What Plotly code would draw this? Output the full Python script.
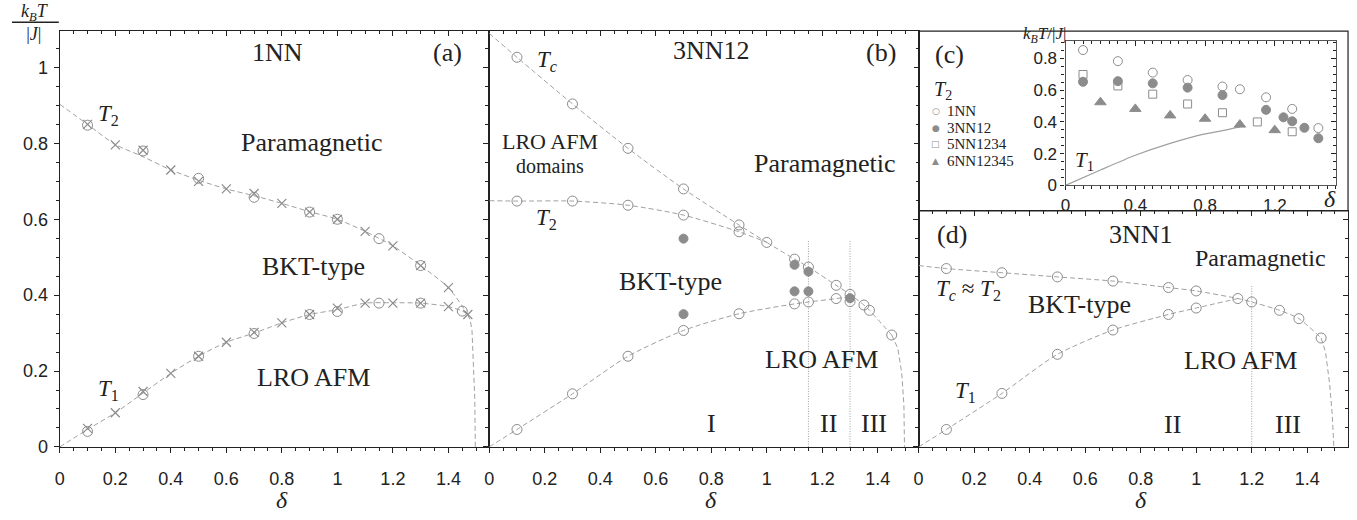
import plotly.graph_objects as go

GRAY = "#8c8c8c"
LINE_GRAY = "#a0a0a0"
INK = "#222222"
SERIF = "Liberation Serif"
SANS = "Liberation Sans"
W, H = 1357, 520

# ---------------- (a) 1NN ----------------
a_T2_circle_x = [0.1, 0.3, 0.5, 0.7, 0.9, 1.0, 1.15, 1.3, 1.45]
a_T2_circle_y = [0.848, 0.780, 0.708, 0.658, 0.619, 0.600, 0.549, 0.478, 0.358]
a_T2_cross_x = [0.1, 0.2, 0.3, 0.4, 0.5, 0.6, 0.7, 0.8, 0.9, 1.0, 1.1, 1.2, 1.3, 1.4, 1.47]
a_T2_cross_y = [0.850, 0.796, 0.782, 0.730, 0.700, 0.680, 0.668, 0.642, 0.619, 0.600,
                0.568, 0.530, 0.478, 0.420, 0.349]
a_T1_circle_x = [0.1, 0.3, 0.5, 0.7, 0.9, 1.0, 1.15, 1.3]
a_T1_circle_y = [0.041, 0.138, 0.239, 0.299, 0.349, 0.357, 0.379, 0.379]
a_T1_cross_x = [0.1, 0.2, 0.3, 0.4, 0.5, 0.6, 0.7, 0.8, 0.9, 1.0, 1.1, 1.2, 1.3, 1.4]
a_T1_cross_y = [0.049, 0.090, 0.146, 0.194, 0.239, 0.276, 0.302, 0.327, 0.349, 0.366,
                0.379, 0.379, 0.379, 0.370]
# dashed guide curves
a_T2_line_x = [0, 0.1, 0.2, 0.3, 0.4, 0.5, 0.6, 0.7, 0.8, 0.9, 1.0, 1.1, 1.2, 1.3, 1.4, 1.47]
a_T2_line_y = [0.903, 0.850, 0.797, 0.765, 0.730, 0.703, 0.680, 0.662, 0.642, 0.620, 0.600,
               0.568, 0.530, 0.478, 0.420, 0.349]
a_T1_line_x = [0, 0.1, 0.2, 0.3, 0.4, 0.5, 0.6, 0.7, 0.8, 0.9, 1.0, 1.1, 1.2, 1.3, 1.4, 1.45, 1.47]
a_T1_line_y = [0, 0.046, 0.090, 0.142, 0.194, 0.239, 0.276, 0.300, 0.327, 0.349, 0.362,
               0.379, 0.380, 0.379, 0.370, 0.358, 0.349]
a_tail_x = [1.47, 1.479, 1.485, 1.491, 1.495, 1.497]
a_tail_y = [0.349, 0.332, 0.307, 0.213, 0.127, 0]

# ---------------- (b) 3NN12 ----------------
b_Tc_x = [0.1, 0.3, 0.5, 0.7, 0.9]
b_Tc_y = [1.027, 0.904, 0.787, 0.680, 0.585]
b_T2_x = [0.1, 0.3, 0.5, 0.7, 0.9, 1.0, 1.1, 1.15, 1.25, 1.3, 1.35, 1.37, 1.45]
b_T2_y = [0.648, 0.648, 0.637, 0.611, 0.567, 0.539, 0.495, 0.474, 0.426, 0.402, 0.374, 0.360, 0.295]
b_T1_x = [0.1, 0.3, 0.5, 0.7, 0.9, 1.1, 1.15, 1.25, 1.3]
b_T1_y = [0.046, 0.140, 0.239, 0.307, 0.351, 0.377, 0.382, 0.391, 0.383]
b_mc_x = [0.7, 0.7, 1.1, 1.1, 1.15, 1.15, 1.3]
b_mc_y = [0.549, 0.350, 0.480, 0.410, 0.462, 0.410, 0.392]
b_Tc_line_x = [0, 0.1, 0.3, 0.5, 0.7, 0.9, 1.0]
b_Tc_line_y = [1.090, 1.027, 0.904, 0.787, 0.680, 0.585, 0.539]
b_T2_line_x = [0, 0.1, 0.3, 0.5, 0.7, 0.9, 1.0]
b_T2_line_y = [0.649, 0.648, 0.648, 0.637, 0.611, 0.567, 0.539]
b_upper_line_x = [1.0, 1.1, 1.15, 1.25, 1.3, 1.35, 1.37, 1.45]
b_upper_line_y = [0.539, 0.495, 0.474, 0.426, 0.402, 0.374, 0.360, 0.295]
b_T1_line_x = [0, 0.1, 0.3, 0.5, 0.7, 0.9, 1.1, 1.15, 1.25, 1.3]
b_T1_line_y = [0, 0.046, 0.140, 0.239, 0.307, 0.351, 0.377, 0.382, 0.391, 0.396]
b_tail_x = [1.45, 1.472, 1.486, 1.494, 1.496]
b_tail_y = [0.295, 0.260, 0.196, 0.110, 0]
b_bounds_x = [1.15, 1.3]
b_bounds_top = 0.543

# ---------------- (d) 3NN1 ----------------
d_T2_x = [0.1, 0.3, 0.5, 0.7, 0.9, 1.0, 1.15, 1.2, 1.3, 1.37, 1.45]
d_T2_y = [0.470, 0.459, 0.448, 0.437, 0.420, 0.411, 0.391, 0.382, 0.360, 0.338, 0.287]
d_T1_x = [0.1, 0.3, 0.5, 0.7, 0.9, 1.0]
d_T1_y = [0.046, 0.141, 0.244, 0.308, 0.349, 0.366]
d_T2_line_x = [0] + d_T2_x
d_T2_line_y = [0.478] + d_T2_y
d_T1_line_x = [0, 0.1, 0.3, 0.5, 0.7, 0.9, 1.0, 1.15]
d_T1_line_y = [0, 0.046, 0.141, 0.244, 0.308, 0.349, 0.366, 0.391]
d_tail_x = [1.45, 1.466, 1.481, 1.490, 1.496]
d_tail_y = [0.287, 0.250, 0.164, 0.086, 0]
d_bounds_x = [1.2]
d_bounds_top = 0.424

# ---------------- (c) T2 comparison ----------------
c_series_names = ["1NN", "3NN12", "5NN1234", "6NN12345"]
c_1NN_x = [0.1, 0.3, 0.5, 0.7, 0.9, 1.0, 1.15, 1.3, 1.45]
c_1NN_y = [0.853, 0.783, 0.711, 0.664, 0.623, 0.606, 0.555, 0.482, 0.361]
c_3NN12_x = [0.1, 0.3, 0.5, 0.7, 0.9, 1.15, 1.25, 1.3, 1.37, 1.45]
c_3NN12_y = [0.653, 0.657, 0.643, 0.616, 0.569, 0.476, 0.429, 0.404, 0.363, 0.297]
c_5NN1234_x = [0.1, 0.3, 0.5, 0.7, 0.9, 1.1, 1.3]
c_5NN1234_y = [0.699, 0.627, 0.575, 0.513, 0.458, 0.400, 0.338]
c_6NN12345_x = [0.2, 0.4, 0.6, 0.8, 1.0, 1.2]
c_6NN12345_y = [0.524, 0.482, 0.441, 0.420, 0.383, 0.348]
c_T1_x = [0, 0.2, 0.4, 0.6, 0.8, 0.9, 1.0]
c_T1_y = [0, 0.097, 0.190, 0.265, 0.325, 0.345, 0.369]

fig = go.Figure()


def markers(x, y, ax, symbol, size, name=None, width=1.0):
    fig.add_trace(go.Scatter(
        x=x, y=y, xaxis="x" + ax, yaxis="y" + ax, mode="markers", name=name,
        showlegend=False, hoverinfo="skip",
        marker=dict(symbol=symbol, size=size, color=GRAY,
                    line=dict(width=width, color=GRAY))))


def curve(x, y, ax, shape="spline", dash="5px,3px", width=1.0):
    fig.add_trace(go.Scatter(
        x=x, y=y, xaxis="x" + ax, yaxis="y" + ax, mode="lines", showlegend=False,
        hoverinfo="skip",
        line=dict(color=LINE_GRAY, width=width, dash=dash, shape=shape, smoothing=0.7)))


# panel (a)
curve(a_T2_line_x, a_T2_line_y, "")
curve(a_T1_line_x, a_T1_line_y, "")
curve(a_tail_x, a_tail_y, "", shape="linear")
markers(a_T2_circle_x, a_T2_circle_y, "", "circle-open", 10)
markers(a_T1_circle_x, a_T1_circle_y, "", "circle-open", 10)
markers(a_T2_cross_x, a_T2_cross_y, "", "x-thin-open", 9, width=1.2)
markers(a_T1_cross_x, a_T1_cross_y, "", "x-thin-open", 9, width=1.2)

# panel (b)
for bx in b_bounds_x:
    curve([bx, bx], [0, b_bounds_top], "2", shape="linear", dash="1px,1.5px")
curve(b_Tc_line_x, b_Tc_line_y, "2")
curve(b_T2_line_x, b_T2_line_y, "2")
curve(b_upper_line_x, b_upper_line_y, "2")
curve(b_T1_line_x, b_T1_line_y, "2")
curve(b_tail_x, b_tail_y, "2", shape="linear")
markers(b_Tc_x, b_Tc_y, "2", "circle-open", 10)
markers(b_T2_x, b_T2_y, "2", "circle-open", 10)
markers(b_T1_x, b_T1_y, "2", "circle-open", 10)
markers(b_mc_x, b_mc_y, "2", "circle", 9)

# panel (d)
for dx in d_bounds_x:
    curve([dx, dx], [0, d_bounds_top], "3", shape="linear", dash="1px,1.5px")
curve(d_T2_line_x, d_T2_line_y, "3")
curve(d_T1_line_x, d_T1_line_y, "3")
curve(d_tail_x, d_tail_y, "3", shape="linear")
markers(d_T2_x, d_T2_y, "3", "circle-open", 10)
markers(d_T1_x, d_T1_y, "3", "circle-open", 10)

# panel (c)
curve(c_T1_x, c_T1_y, "4", dash="solid", width=1.2)
markers(c_1NN_x, c_1NN_y, "4", "circle-open", 9, name=c_series_names[0])
markers(c_3NN12_x, c_3NN12_y, "4", "circle", 9, name=c_series_names[1])
markers(c_5NN1234_x, c_5NN1234_y, "4", "square-open", 8, name=c_series_names[2])
markers(c_6NN12345_x, c_6NN12345_y, "4", "triangle-up", 10, name=c_series_names[3])

# empty traces that carry the top / right tick axes
for k in ["5", "6", "7", "8"]:
    fig.add_trace(go.Scatter(x=[], y=[], xaxis="x" + k, yaxis="y" + k,
                             showlegend=False, hoverinfo="skip"))


def px_x(p):
    return p / W


def px_y(p):
    return 1 - p / H


XR = [0, 1.547]
YR_AB = [0, 1.096]
YR_D = [0, 0.622]
XR_C = [0, 1.55]
YR_C = [0, 0.907]

dom = {
    "": ([px_x(55), px_x(486)], [px_y(455.7), px_y(31.7)], XR, YR_AB, True, True),
    "2": ([px_x(486), px_x(917)], [px_y(455.7), px_y(31.7)], XR, YR_AB, True, False),
    "3": ([px_x(917), px_x(1348)], [px_y(455.7), px_y(215)], XR, YR_D, True, False),
}

layout_axes = {}


def prim(domain, rng, anchor, dtick, minor_dtick, labels, fsize, ticklen=5, standoff=0):
    return dict(domain=domain, range=rng, anchor=anchor, showline=True, linecolor=INK,
                linewidth=1.2, mirror=True, ticks="outside", ticklen=ticklen, tickwidth=1,
                tickcolor=INK, tick0=0, dtick=dtick,
                minor=dict(dtick=minor_dtick, ticks="outside", ticklen=3, tickcolor=INK),
                showgrid=False, zeroline=False, showticklabels=labels,
                ticklabelstandoff=standoff,
                tickfont=dict(family=SANS, size=fsize, color=INK))


def over(base, side, rng, anchor, dtick, minor_dtick):
    return dict(overlaying=base, side=side, range=rng, anchor=anchor, ticks="inside",
                ticklen=5, tickwidth=1, tickcolor=INK, tick0=0, dtick=dtick,
                minor=dict(dtick=minor_dtick, ticks="inside", ticklen=3, tickcolor=INK),
                showline=False, showgrid=False, zeroline=False, showticklabels=False)


pairs = {"": "5", "2": "6", "3": "7"}
for k, (xd, yd, xr, yr, xl, yl) in dom.items():
    o = pairs[k]
    layout_axes["xaxis" + k] = prim(xd, xr, "y" + k, 0.2, 0.05, xl, 18, standoff=10)
    layout_axes["yaxis" + k] = prim(yd, yr, "x" + k, 0.2, 0.05, yl, 18, standoff=2)
    layout_axes["xaxis" + o] = over("x" + k, "top", xr, "y" + o, 0.2, 0.05)
    layout_axes["yaxis" + o] = over("y" + k, "right", yr, "x" + o, 0.2, 0.05)

# inset axes of (c)
layout_axes["xaxis4"] = prim([px_x(1064.5), px_x(1335.7)], XR_C, "y4", 0.4, 0.05, True, 17, ticklen=4)
layout_axes["yaxis4"] = prim([px_y(189), px_y(42.3)], YR_C, "x4", 0.2, 0.05, True, 17, ticklen=4)
layout_axes["xaxis4"]["linecolor"] = "#555"
layout_axes["yaxis4"]["linecolor"] = "#555"
layout_axes["xaxis8"] = over("x4", "top", XR_C, "y8", 0.4, 0.05)
layout_axes["yaxis8"] = over("y4", "right", YR_C, "x8", 0.2, 0.05)

ann = []


def label(text, x, y, ax, size=26):
    ann.append(dict(text=text, x=x, y=y, xref="x" + ax, yref="y" + ax, showarrow=False,
                    xanchor="center", yanchor="middle", borderpad=0,
                    font=dict(family=SERIF, size=size, color=INK)))


def plabel(text, xpx, ypx, size=26, xanchor="center", color=INK, family=SERIF):
    ann.append(dict(text=text, x=px_x(xpx), y=px_y(ypx), xref="paper", yref="paper",
                    showarrow=False, xanchor=xanchor, yanchor="middle", borderpad=0,
                    font=dict(family=family, size=size, color=color)))


T1 = "<i>T</i><sub>1</sub>"
T2 = "<i>T</i><sub>2</sub>"
TC = "<i>T</i><sub><i>c</i></sub>"

# (a)
label("1NN", 0.785, 1.04, "")
label("(a)", 1.395, 1.04, "")
label(T2, 0.174, 0.876, "", 23)
label("Paramagnetic", 0.91, 0.803, "")
label("BKT-type", 0.914, 0.476, "")
label("LRO AFM", 0.914, 0.183, "")
label(T1, 0.176, 0.151, "", 23)
# (b)
label("3NN12", 0.8, 1.044, "2")
label("(b)", 1.41, 1.04, "2")
label(TC, 0.208, 1.016, "2", 23)
label(T2, 0.208, 0.600, "2", 23)
label("LRO AFM", 0.218, 0.805, "2", 22)
label("domains", 0.218, 0.741, "2", 20)
label("Paramagnetic", 1.209, 0.747, "2")
label("BKT-type", 0.653, 0.437, "2")
label("LRO AFM", 1.197, 0.230, "2")
label("I", 0.8, 0.062, "2")
label("II", 1.221, 0.062, "2")
label("III", 1.385, 0.062, "2")
# (d)
label("(d)", 0.122, 0.56, "3")
label("3NN1", 0.8, 0.56, "3")
label("Paramagnetic", 1.23, 0.498, "3", 24)
label(TC + " ≈ " + T2, 0.18, 0.413, "3", 23)
label("BKT-type", 0.58, 0.375, "3")
label("LRO AFM", 1.161, 0.228, "3")
label(T1, 0.17, 0.146, "3", 23)
label("II", 0.914, 0.06, "3")
label("III", 1.329, 0.06, "3")
# (c)
plabel("(c)", 948, 56)
plabel("<i>k</i><sub><i>B</i></sub><i>T</i>/|<i>J</i>|", 1066, 36, 17, xanchor="right")
plabel("<i>δ</i>", 1330, 203, 24)
label(T1, 0.107, 0.153, "4", 21)
# (c) key
plabel(T2, 941, 92, 20)
key_glyphs = ["○", "●", "□", "▲"]
key_rows = [113, 130, 147, 164]
for name, glyph, row in zip(c_series_names, key_glyphs, key_rows):
    plabel(glyph, 934, row, 9, color=GRAY, family="DejaVu Sans")
    plabel(name, 944, row, 15, xanchor="left")

# axis titles
for k in ["", "2", "3"]:
    ann.append(dict(text="<i>δ</i>", x=0.8, y=px_y(510), xref="x" + k, yref="paper",
                    showarrow=False, xanchor="center", yanchor="middle", borderpad=0,
                    font=dict(family=SERIF, size=24, color=INK)))
plabel("<i>k</i><sub><i>B</i></sub><i>T</i><br>|<i>J</i>|", 30, 23, 18)

shapes = [
    dict(type="line", xref="paper", yref="paper", x0=px_x(7), x1=px_x(54),
         y0=px_y(22.7), y1=px_y(22.7), line=dict(color=INK, width=1.3)),
    dict(type="rect", xref="paper", yref="paper", x0=px_x(917), x1=px_x(1348),
         y0=px_y(215), y1=px_y(31.7), line=dict(color=INK, width=1.2)),
]

fig.update_layout(
    width=W, height=H, margin=dict(l=0, r=0, t=0, b=0),
    paper_bgcolor="white", plot_bgcolor="rgba(0,0,0,0)",
    font=dict(family=SERIF, color=INK),
    annotations=ann, shapes=shapes, showlegend=False,
    **layout_axes,
)

fig.write_html("out.html")
